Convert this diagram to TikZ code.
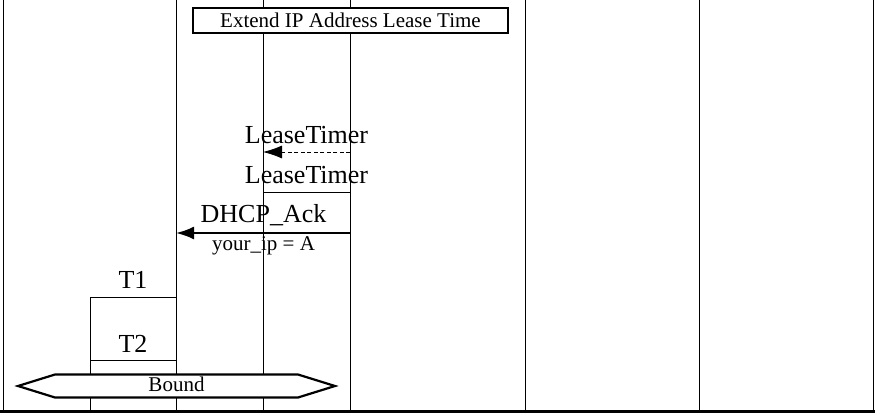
\documentclass[tikz,border=0pt]{standalone}
\usepackage{fontspec}
\setmainfont{Liberation Serif}
\usetikzlibrary{backgrounds,arrows.meta}

\newcommand{\bigtext}{\fontsize{26}{30}\selectfont}
\newcommand{\smalltext}{\fontsize{21}{25}\selectfont}

\begin{document}
\begin{tikzpicture}[x=1pt,y=-1pt]

    % `lifeline' is used for the vertical instance lines.
    % `condition' is the box that spans several instances.
    % `msg' and `timeout' are the arrows between instances.
    \tikzstyle{lifeline} = [draw,line width=0.8pt]
    \tikzstyle{condition} = [draw,line width=2.2pt,fill=white,inner sep=0pt,
      minimum width=315,minimum height=25,font=\smalltext]
    \tikzstyle{msg} = [line width=2.2pt,-{Latex[length=18pt,width=13pt]}]
    \tikzstyle{timeout} = [line width=0.8pt,dash pattern=on 4pt off 2.5pt,
      -{Latex[length=19pt,width=13pt]}]
    \tikzstyle{label} = [anchor=base,inner sep=0pt,font=\bigtext]
    \tikzstyle{param} = [anchor=base,inner sep=0pt,font=\smalltext]
    \tikzstyle{state} = [draw,line width=2.2pt,fill=white]
    %
    \useasboundingbox (0,0) rectangle (875,413);

    % Instance lines.
    \coordinate (top1) at (3,0);   \coordinate (end1) at (3,411);
    \coordinate (top2) at (176,0); \coordinate (end2) at (176,411);
    \coordinate (top3) at (263,0); \coordinate (end3) at (263,411);
    \coordinate (top4) at (350,0); \coordinate (end4) at (350,411);
    \coordinate (top5) at (525,0); \coordinate (end5) at (525,411);
    \coordinate (top6) at (699,0); \coordinate (end6) at (699,411);
    \coordinate (top7) at (873,0); \coordinate (end7) at (873,411);

    % Condition box.
    \node[condition] (extend) at (350.5,20.5) {Extend IP Address Lease Time};

    % Timer expiry.
    \node[label] (timer1) at (306.5,143) {LeaseTimer};
    \coordinate (tstart) at (350,152);
    \coordinate (tend) at (263,152);

    % Timer set.
    \node[label] (timer2) at (306.5,183) {LeaseTimer};
    \coordinate (set3) at (263,192);
    \coordinate (set4) at (350,192);

    % Message.
    \node[label] (ack) at (263.5,222) {DHCP\_Ack};
    \node[param] (ip) at (263.5,250) {your\_ip = A};
    \coordinate (ackstart) at (350,233);
    \coordinate (ackend) at (176,233);

    % Timers T1 and T2.
    \node[label] (t1) at (133,288) {T1};
    \coordinate (t1a) at (90,297);  \coordinate (t1b) at (176,297);
    \node[label] (t2) at (133,352) {T2};
    \coordinate (t2a) at (90,360);  \coordinate (t2b) at (176,360);
    \coordinate (t1end) at (90,411);

    % Bottom edge.
    \coordinate (floorl) at (0,411.5);
    \coordinate (floorr) at (875,411.5);

    \begin{pgfonlayer}{background}
        % Draw lines.
        \draw[lifeline] (top1) -- (end1) (top2) -- (end2) (top3) -- (end3)
          (top4) -- (end4) (top5) -- (end5) (top6) -- (end6) (top7) -- (end7);
        \draw[lifeline] (set3) -- (set4) (t1a) -- (t1b) (t2a) -- (t2b)
          (t1a) -- (t1end);
    \end{pgfonlayer}

    \draw[timeout] (tstart) -- (tend);
    \draw[msg] (ackstart) -- (ackend);

    % State.
    \draw[state] (18,386) -- (55,374.5) -- (298,374.5) -- (335,386)
      -- (298,397.5) -- (55,397.5) -- cycle;
    \node[param] (bound) at (176.5,391) {Bound};

    \draw[line width=2.5pt] (floorl) -- (floorr);
    %
\end{tikzpicture}
\end{document}
